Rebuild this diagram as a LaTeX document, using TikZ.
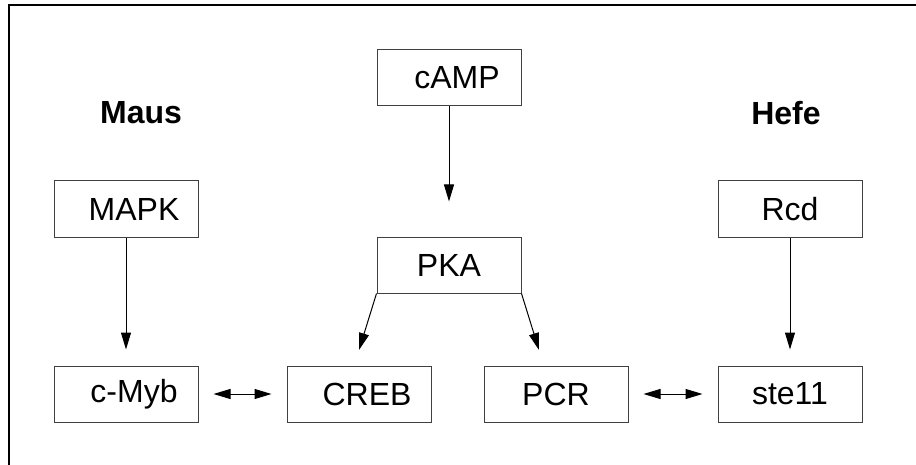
\documentclass[tikz,border=0pt]{standalone}
\usepackage{fontspec}
\setmainfont{Liberation Sans}
\usetikzlibrary{arrows.meta, positioning}

\begin{document}
\begin{tikzpicture}[
  x=0.5pt, y=-0.5pt,
  every node/.style={font=\fontsize{16}{19}\selectfont},
  box/.style={draw=black!75, line width=0.5pt, minimum width=72pt,
              minimum height=28pt, inner sep=0pt},
  lbox/.style={box, execute at begin node=\hspace*{8pt}},
  org/.style={font=\fontsize{16}{19}\selectfont\bfseries},
  tip/.tip={Triangle[length=8.5pt, width=5pt]},
  arr/.style={-tip, line width=0.5pt, shorten >=8pt},
  slant/.style={-tip, line width=0.5pt},
  darr/.style={tip-tip, line width=0.5pt, shorten >=7.5pt, shorten <=7.5pt}
]
\useasboundingbox (0,0) rectangle (916,465);
\draw[line width=0.6pt] (916,5) -- (9,5) -- (9,465);

% organism headings
\node[org] (maus) at (141,113) {Maus};
\node[org] (hefe) at (786,113) {Hefe};

% signalling cascade
\node[lbox] (camp) at (449,78)  {cAMP};
\node[box]  (pka)  at (449,265) {PKA};
\node[lbox] (mapk) at (126,209) {MAPK};
\node[box]  (rcd)  at (790,209) {Rcd};

\node[lbox] (myb)   at (126,394) {c-Myb};
\node[lbox] (creb)  at (359,394) {CREB};
\node[box]  (pcr)   at (556,394) {PCR};
\node[box]  (ste)   at (790,394) {ste11};

% where the PKA arrows stop
\coordinate (crebtop) at (359,350);
\coordinate (pcrtop)  at (539,350);

\draw[arr, shorten >=17.5pt] (camp) -- (pka);
\draw[slant] (pka.south west) -- (crebtop);
\draw[slant] (pka.south east) -- (pcrtop);
\draw[arr] (mapk) -- (myb);
\draw[arr] (rcd) -- (ste);
\draw[darr] (myb) -- (creb);
\draw[darr] (pcr) -- (ste);
\end{tikzpicture}
\end{document}
